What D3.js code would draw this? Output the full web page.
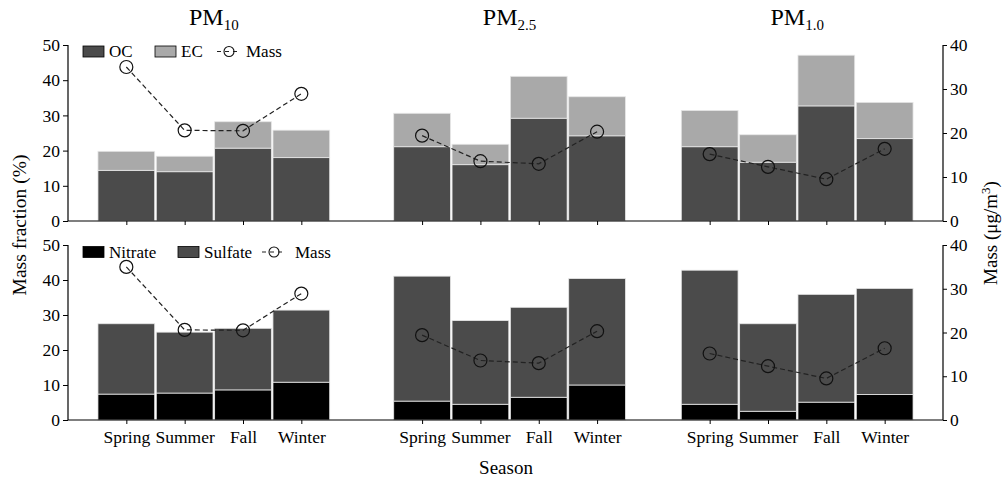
<!DOCTYPE html>
<html><head><meta charset="utf-8">
<script src="https://cdn.jsdelivr.net/npm/d3@7"></script>
<style>
body{margin:0;background:#fff;}
text{font-family:"Liberation Serif","Times New Roman",serif;fill:#000;}
</style></head>
<body>
<svg id="chart" width="1004" height="481"></svg>
<script>
// ---- data ----
const seasons = ["Spring", "Summer", "Fall", "Winter"];
const sizeMain = ["PM", "PM", "PM"];
const sizeSub = ["10", "2.5", "1.0"];
// top panel: OC and EC mass fraction (%)
const ocValues = [
  [14.4, 14.0, 20.7, 18.0],
  [21.1, 16.0, 29.2, 24.2],
  [21.1, 16.7, 32.7, 23.4]
];
const ecValues = [
  [5.4, 4.4, 7.5, 7.8],
  [9.5, 5.8, 11.9, 11.1],
  [10.3, 7.8, 14.4, 10.3]
];
// bottom panel: nitrate and sulfate mass fraction (%)
const nitrateValues = [
  [7.4, 7.7, 8.6, 10.8],
  [5.4, 4.5, 6.5, 10.0],
  [4.5, 2.5, 5.1, 7.3]
];
const sulfateValues = [
  [20.1, 17.4, 17.6, 20.6],
  [35.7, 23.9, 25.7, 30.4],
  [38.3, 25.0, 30.8, 30.3]
];
// PM mass concentration (ug/m3)
const massValues = [
  [35.0, 20.6, 20.5, 28.9],
  [19.4, 13.6, 13.0, 20.3],
  [15.2, 12.3, 9.5, 16.4]
];
const leftTicks = [0, 10, 20, 30, 40, 50];
const rightTicks = [0, 10, 20, 30, 40];

// ---- layout ----
const FONT = '"Liberation Serif","Times New Roman",serif';
const svg = d3.select("#chart");
const X0 = 68, X1 = 943;
const x = d3.scaleLinear().domain([0, 15]).range([X0, X1]);
const groupShift = [0, 0.07, 0];
const slotW = x(1) - x(0);
const pos = (g, i) => x(g * 5 + i + 1 + groupShift[g]);

const panels = [
  {y0: 221, y1: 45, stacks: [ocValues, ecValues], colors: ["#4b4b4b", "#a9a9a9"],
   legend: [{t: "OC", x: 83, tx: 109, c: "#4b4b4b"}, {t: "EC", x: 155, tx: 181, c: "#a9a9a9"}],
   mass: {x: 217, tx: 246}, ly: 46, showX: false},
  {y0: 420, y1: 245, stacks: [nitrateValues, sulfateValues], colors: ["#000000", "#4b4b4b"],
   legend: [{t: "Nitrate", x: 83, tx: 109, c: "#000000"}, {t: "Sulfate", x: 178, tx: 204, c: "#4b4b4b"}],
   mass: {x: 262, tx: 295}, ly: 246.5, showX: true}
];

panels.forEach(p => {
  const y = d3.scaleLinear().domain([0, 50]).range([p.y0, p.y1]);
  const yr = d3.scaleLinear().domain([0, 40]).range([p.y0, p.y1]);
  const g = svg.append("g");

  // bars
  for (let gi = 0; gi < 3; gi++) {
    for (let i = 0; i < 4; i++) {
      let base = 0;
      p.stacks.forEach((arr, si) => {
        const v = arr[gi][i];
        g.append("rect")
          .attr("x", pos(gi, i) - slotW / 2 + 0.8)
          .attr("width", slotW - 1.6)
          .attr("y", y(base + v))
          .attr("height", y(base) - y(base + v))
          .attr("fill", p.colors[si])
          .attr("stroke", "#e6e6e6")
          .attr("stroke-width", 0.8);
        base += v;
      });
    }
  }

  // mass lines
  for (let gi = 0; gi < 3; gi++) {
    const pts = massValues[gi].map((v, i) => [pos(gi, i), yr(v)]);
    g.append("path")
      .attr("d", d3.line()(pts))
      .attr("fill", "none").attr("stroke", "#222").attr("stroke-width", 1.2)
      .attr("stroke-dasharray", "5,3");
    g.selectAll(null).data(pts).enter().append("circle")
      .attr("cx", d => d[0]).attr("cy", d => d[1]).attr("r", 6.5)
      .attr("fill", "none").attr("stroke", "#111").attr("stroke-width", 1.2);
  }

  // axes
  const la = g.append("g").attr("transform", `translate(${X0},0)`)
    .call(d3.axisLeft(y).tickValues(leftTicks).tickSize(5).tickPadding(3));
  const ra = g.append("g").attr("transform", `translate(${X1},0)`)
    .call(d3.axisRight(yr).tickValues(rightTicks).tickSize(4).tickPadding(3));
  const tickPos = [];
  const tickLab = [];
  for (let gi = 0; gi < 3; gi++) for (let i = 0; i < 4; i++) { tickPos.push(gi * 5 + i + 1 + groupShift[gi]); tickLab.push(seasons[i]); }
  const xa = g.append("g").attr("transform", `translate(0,${p.y0})`)
    .call(d3.axisBottom(x).tickValues(tickPos).tickSize(4).tickPadding(7)
      .tickFormat((d, k) => p.showX ? tickLab[k] : ""));
  [la, ra, xa].forEach(a => {
    a.attr("font-family", FONT).attr("font-size", 17);
    a.selectAll("path.domain").attr("d", null);
    a.selectAll("text").style("font-size", "17.5px").style("font-family", FONT).attr("fill", "#000");
    a.selectAll("line").attr("stroke", "#000");
  });
  // axis lines
  g.append("line").attr("x1", X0).attr("x2", X0).attr("y1", p.y1).attr("y2", p.y0).attr("stroke", "#000").attr("stroke-width", 1.2);
  g.append("line").attr("x1", X1).attr("x2", X1).attr("y1", p.y1).attr("y2", p.y0).attr("stroke", "#000").attr("stroke-width", 1.2);
  g.append("line").attr("x1", X0).attr("x2", X1).attr("y1", p.y0).attr("y2", p.y0).attr("stroke", "#000").attr("stroke-width", 1.2);

  // legend
  p.legend.forEach(L => {
    g.append("rect").attr("x", L.x).attr("y", p.ly).attr("width", 21).attr("height", 11)
      .attr("fill", L.c).attr("stroke", "#000").attr("stroke-width", 0.8);
    g.append("text").attr("x", L.tx).attr("y", p.ly + 11).style("font-size", "17px").text(L.t);
  });
  const mcx = p.mass.x + 12;
  const mcy = p.ly + 5.5;
  g.append("line").attr("x1", p.mass.x).attr("x2", p.mass.x + 24).attr("y1", mcy).attr("y2", mcy)
    .attr("stroke", "#222").attr("stroke-width", 1.2).attr("stroke-dasharray", "4,4");
  g.append("circle").attr("cx", mcx).attr("cy", mcy).attr("r", 5)
    .attr("fill", "none").attr("stroke", "#111").attr("stroke-width", 1.1);
  g.append("text").attr("x", p.mass.tx).attr("y", p.ly + 11).style("font-size", "17px").text("Mass");
});

// titles
for (let gi = 0; gi < 3; gi++) {
  const t = svg.append("text").attr("x", x(gi * 5 + 2.5 + groupShift[gi])).attr("y", 25)
    .attr("text-anchor", "middle").style("font-size", "24px");
  t.append("tspan").text(sizeMain[gi]);
  t.append("tspan").attr("dy", 5).style("font-size", "15px").text(sizeSub[gi]);
}

// axis titles
svg.append("text").attr("transform", "translate(26,225) rotate(-90)")
  .attr("text-anchor", "middle").style("font-size", "19.5px").text("Mass fraction (%)");
const rt = svg.append("text").attr("transform", "translate(997,233) rotate(-90)")
  .attr("text-anchor", "middle").style("font-size", "19px");
rt.append("tspan").text("Mass (μg/m");
rt.append("tspan").attr("dy", -7).style("font-size", "13px").text("3");
rt.append("tspan").attr("dy", 7).text(")");
svg.append("text").attr("x", 506).attr("y", 474).attr("text-anchor", "middle")
  .style("font-size", "19px").text("Season");
</script>
</body></html>
